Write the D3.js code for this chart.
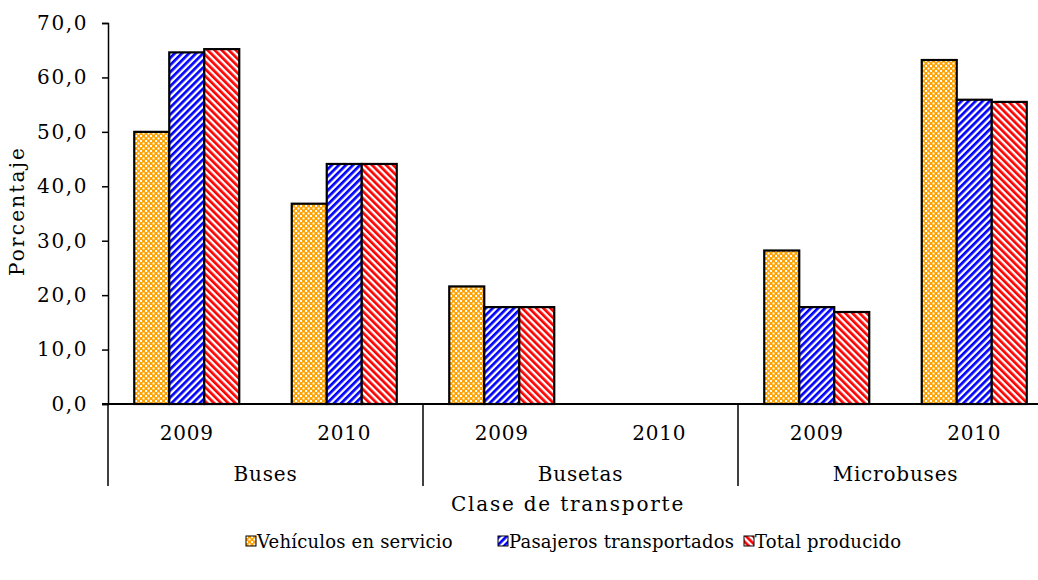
<!DOCTYPE html>
<html>
<head>
<meta charset="utf-8">
<script src="https://cdn.jsdelivr.net/npm/d3@7"></script>
<style>
  body { margin: 0; background: #fff; }
  text { font-family: "DejaVu Serif", serif; fill: #000; }
</style>
</head>
<body>
<div id="chart"></div>
<script>
var width = 1038, height = 580;

// data
var grupos = ["Buses", "Busetas", "Microbuses"];
var anios = ["2009", "2010"];
var series = ["Vehículos en servicio", "Pasajeros transportados", "Total producido"];
var vehiculos = [50.0, 36.8, 21.6, 0, 28.2, 63.2];
var pasajeros = [64.6, 44.1, 17.8, 0, 17.8, 55.9];
var total = [65.2, 44.1, 17.8, 0, 16.9, 55.5];
var yTicks = [0, 10, 20, 30, 40, 50, 60, 70];

var valores = [vehiculos, pasajeros, total];
var cats = [];
grupos.forEach(function(g) { anios.forEach(function(a) { cats.push(g + "|" + a); }); });

var svg = d3.select("#chart")
  .append("svg")
    .attr("width", width)
    .attr("height", height);

// patterns
var defs = svg.append("defs");
var p0 = defs.append("pattern").attr("id", "pat0").attr("patternUnits", "userSpaceOnUse")
  .attr("width", 5).attr("height", 5);
p0.append("rect").attr("width", 5).attr("height", 5).attr("fill", "#ffa200");
p0.append("rect").attr("x", 0).attr("y", 0).attr("width", 2).attr("height", 2).attr("fill", "#fff");
p0.append("rect").attr("x", 2.5).attr("y", 2.5).attr("width", 2).attr("height", 2).attr("fill", "#fff");

var p1 = defs.append("pattern").attr("id", "pat1").attr("patternUnits", "userSpaceOnUse")
  .attr("width", 5).attr("height", 5).attr("patternTransform", "rotate(45)");
p1.append("rect").attr("width", 5).attr("height", 5).attr("fill", "#fff");
p1.append("rect").attr("width", 2.7).attr("height", 5).attr("fill", "#0000ff");

var p2 = defs.append("pattern").attr("id", "pat2").attr("patternUnits", "userSpaceOnUse")
  .attr("width", 5).attr("height", 5).attr("patternTransform", "rotate(-45)");
p2.append("rect").attr("width", 5).attr("height", 5).attr("fill", "#fff");
p2.append("rect").attr("width", 2.7).attr("height", 5).attr("fill", "#ff0000");

var x0 = d3.scaleBand().domain(cats).range([108, 1053]).paddingInner(1/3).paddingOuter(1/6);
var x1 = d3.scaleBand().domain(d3.range(series.length)).range([0, x0.bandwidth()]);
var y = d3.scaleLinear().domain([0, 70]).range([404, 23]);

var fmt = d3.formatLocale({decimal: ",", thousands: ".", grouping: [3], currency: ["", ""]}).format(".1f");

// bars
var barras = [];
valores.forEach(function(arr, s) {
  arr.forEach(function(v, i) { if (v > 0) barras.push({s: s, c: cats[i], v: v}); });
});
svg.append("g").selectAll("rect")
    .data(barras)
  .enter().append("rect")
    .attr("x", function(d) { return x0(d.c) + x1(d.s); })
    .attr("y", function(d) { return y(d.v); })
    .attr("width", x1.bandwidth())
    .attr("height", function(d) { return y(0) - y(d.v); })
    .attr("fill", function(d) { return "url(#pat" + d.s + ")"; })
    .attr("stroke", "#000")
    .attr("stroke-width", 2.2);

// y axis
var yAxis = svg.append("g")
    .attr("transform", "translate(108,0)")
    .call(d3.axisLeft(y).tickValues(yTicks).tickFormat(fmt).tickSize(6).tickPadding(14));
yAxis.select(".domain").attr("stroke-width", 1.5);
yAxis.selectAll(".tick line").attr("stroke-width", 1.5);
yAxis.selectAll("text")
    .style("font-size", "20px")
    .style("font-family", "DejaVu Serif")
    .style("letter-spacing", "1.6px");

// x axis line
svg.append("line").attr("x1", 102).attr("x2", width).attr("y1", y(0)).attr("y2", y(0))
  .attr("stroke", "#000").attr("stroke-width", 2);

// group separators
var step = x0.step();
var seps = [0, 2, 4].map(function(i) { return x0.range()[0] + i * step; });
svg.append("g").selectAll("line")
    .data(seps)
  .enter().append("line")
    .attr("x1", function(d) { return d; }).attr("x2", function(d) { return d; })
    .attr("y1", y(0)).attr("y2", 486)
    .attr("stroke", "#000").attr("stroke-width", 1.5);

// year labels
svg.append("g").selectAll("text")
    .data(cats)
  .enter().append("text")
    .attr("x", function(d) { return x0(d) + x0.bandwidth() / 2; })
    .attr("y", 440)
    .attr("text-anchor", "middle")
    .style("font-size", "20px")
    .style("letter-spacing", "0.8px")
    .text(function(d) { return d.split("|")[1]; });

// group labels
svg.append("g").selectAll("text")
    .data(grupos)
  .enter().append("text")
    .attr("x", function(d, i) { return x0.range()[0] + (i * 2 + 1) * step; })
    .attr("y", 481)
    .attr("text-anchor", "middle")
    .style("font-size", "20px")
    .style("letter-spacing", "0.8px")
    .text(function(d) { return d; });

svg.append("text")
    .attr("x", 568).attr("y", 511)
    .attr("text-anchor", "middle")
    .style("font-size", "20px")
    .style("letter-spacing", "1.8px")
    .text("Clase de transporte");

svg.append("text")
    .attr("transform", "translate(24,211) rotate(-90)")
    .attr("text-anchor", "middle")
    .style("font-size", "20px")
    .style("letter-spacing", "2.2px")
    .text("Porcentaje");

// legend
var legX = [246, 498, 744];
var leg = svg.append("g").selectAll("g")
    .data(series)
  .enter().append("g")
    .attr("transform", function(d, i) { return "translate(" + legX[i] + ",536)"; });
leg.append("rect")
    .attr("width", 10).attr("height", 10)
    .attr("fill", function(d, i) { return "url(#pat" + i + ")"; })
    .attr("stroke", "#000").attr("stroke-width", 1);
leg.append("text")
    .attr("x", 11).attr("y", 12)
    .style("font-size", "18px")
    .style("letter-spacing", "0.2px")
    .text(function(d) { return d; });
</script>
</body>
</html>
